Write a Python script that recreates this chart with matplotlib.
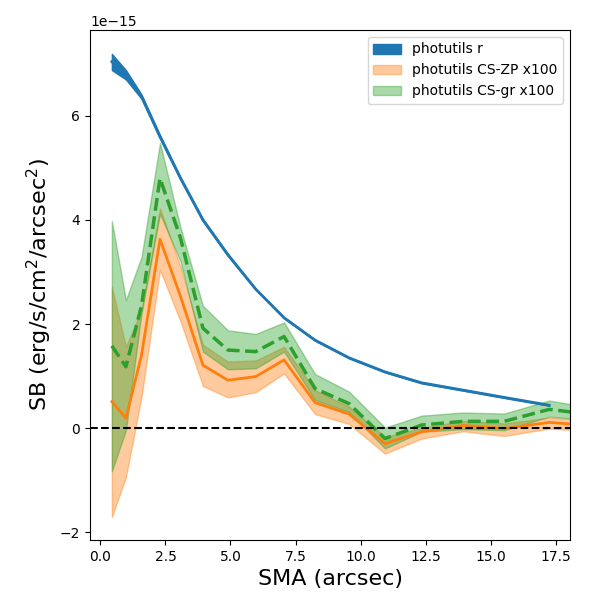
import numpy as np
import matplotlib
matplotlib.use("Agg")
import matplotlib.pyplot as plt

# SMA values (arcsec)
sma_r = [0.44, 0.98, 1.58, 2.29, 3.08, 3.94, 4.9, 5.97, 7.06, 8.25, 9.56, 10.94, 12.35, 13.94, 15.52, 17.25]
sma_cs = [0.44, 0.98, 1.58, 2.29, 3.08, 3.94, 4.9, 5.97, 7.06, 8.25, 9.56, 10.94, 12.35, 13.94, 15.52, 17.25, 19.1]

# photutils r (units of 1e-15)
r_mid = [7.04, 6.80, 6.37, 5.60, 4.80, 4.00, 3.33, 2.67, 2.12, 1.69, 1.35, 1.08, 0.87, 0.73, 0.59, 0.44]
r_lo = [6.88, 6.70, 6.33, 5.57, 4.78, 3.98, 3.31, 2.66, 2.11, 1.68, 1.34, 1.07, 0.86, 0.72, 0.58, 0.43]
r_hi = [7.19, 6.88, 6.41, 5.63, 4.82, 4.02, 3.35, 2.68, 2.13, 1.70, 1.36, 1.09, 0.88, 0.74, 0.60, 0.45]

# photutils CS-ZP x100
zp_mid = [0.51, 0.19, 1.40, 3.63, 2.53, 1.21, 0.92, 0.99, 1.31, 0.49, 0.27, -0.30, -0.07, 0.05, -0.01, 0.11, 0.04]
zp_lo = [-1.71, -0.94, 0.60, 3.04, 2.05, 0.81, 0.59, 0.69, 1.05, 0.27, 0.08, -0.49, -0.20, -0.06, -0.15, -0.01, -0.06]
zp_hi = [2.71, 1.56, 2.27, 4.22, 3.10, 1.60, 1.28, 1.30, 1.56, 0.73, 0.41, -0.17, 0.00, 0.14, 0.09, 0.20, 0.15]

# photutils CS-gr x100
gr_mid = [1.58, 1.18, 2.35, 4.80, 3.65, 1.92, 1.50, 1.47, 1.76, 0.76, 0.47, -0.20, 0.06, 0.13, 0.13, 0.36, 0.25]
gr_lo = [-0.83, -0.04, 2.20, 4.12, 3.20, 1.47, 1.13, 1.15, 1.47, 0.54, 0.31, -0.39, -0.07, -0.02, -0.04, 0.22, 0.14]
gr_hi = [3.98, 2.46, 3.29, 5.48, 3.85, 2.35, 1.88, 1.81, 2.03, 1.04, 0.70, 0.01, 0.24, 0.30, 0.28, 0.53, 0.37]

scale = 1e-15
s = lambda a: np.array(a) * scale

fig, ax = plt.subplots(figsize=(6, 6), dpi=100)
fig.subplots_adjust(left=0.15, right=0.95, bottom=0.10, top=0.95)

ax.fill_between(sma_r, s(r_lo), s(r_hi), color='C0', alpha=1.0, label='photutils r')
ax.plot(sma_r, s(r_mid), color='C0', lw=2)

ax.fill_between(sma_cs, s(zp_lo), s(zp_hi), color='C1', alpha=0.4, label='photutils CS-ZP x100')
ax.plot(sma_cs, s(zp_mid), color='C1', lw=2)

ax.fill_between(sma_cs, s(gr_lo), s(gr_hi), color='C2', alpha=0.4, label='photutils CS-gr x100')
ax.plot(sma_cs, s(gr_mid), color='C2', lw=2.5, ls='--')

ax.axhline(0, color='k', ls='--', lw=1.5)

ax.set_xlim(-0.4, 18.05)
ax.set_ylim(-2.15e-15, 7.65e-15)
ax.set_xlabel('SMA (arcsec)', fontsize=16)
ax.set_ylabel('SB (erg/s/cm$^2$/arcsec$^2$)', fontsize=16)
ax.legend(loc='upper right')

fig.savefig('out.png', dpi=100)
